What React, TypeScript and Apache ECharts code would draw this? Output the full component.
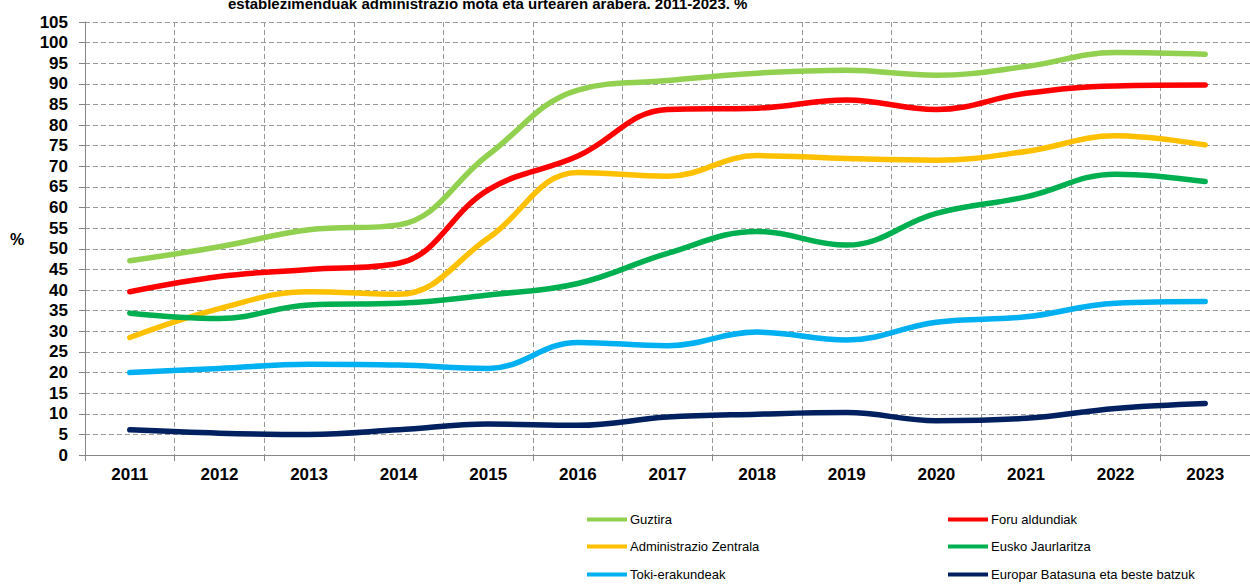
import React, { useEffect, useRef } from "react";
import * as echarts from "echarts";

const years = ["2011", "2012", "2013", "2014", "2015", "2016", "2017", "2018", "2019", "2020", "2021", "2022", "2023"];

const guztira = [47.1, 50.5, 54.6, 55.8, 72.8, 88.5, 90.8, 92.6, 93.3, 92.1, 94.2, 97.6, 97.2];
const foruAldundiak = [39.6, 43.3, 45.0, 46.5, 64.3, 72.5, 83.8, 84.1, 86.1, 83.8, 87.7, 89.5, 89.7];
const administrazioZentrala = [28.5, 35.5, 39.6, 39.0, 52.6, 68.5, 67.6, 72.6, 71.9, 71.5, 73.6, 77.4, 75.2];
const euskoJaurlaritza = [34.4, 33.1, 36.4, 36.8, 38.8, 41.6, 48.9, 54.2, 50.9, 58.6, 62.6, 68.1, 66.3];
const tokiErakundeak = [20.0, 21.0, 22.0, 21.8, 21.0, 27.3, 26.5, 29.8, 27.9, 32.2, 33.5, 36.8, 37.2];
const europarBatasuna = [6.1, 5.3, 5.0, 6.1, 7.5, 7.2, 9.2, 9.9, 10.3, 8.3, 8.9, 11.3, 12.5];

const seriesNames = [
  "Guztira",
  "Foru aldundiak",
  "Administrazio Zentrala",
  "Eusko Jaurlaritza",
  "Toki-erakundeak",
  "Europar Batasuna eta beste batzuk",
];
const seriesData = [guztira, foruAldundiak, administrazioZentrala, euskoJaurlaritza, tokiErakundeak, europarBatasuna];
const seriesColors = ["#92D050", "#FF0000", "#FFC000", "#00B050", "#00B0F0", "#002060"];

const titleText = "establezimenduak administrazio mota eta urtearen arabera. 2011-2023. %";

const FONT = "'Liberation Sans', Arial, sans-serif";

export default function App() {
  const ref = useRef<HTMLDivElement>(null);
  useEffect(() => {
    if (!ref.current) return;
    const chart = echarts.init(ref.current, null, { renderer: "svg" });
    const legendPos = [
      { left: 587, top: 513 },
      { left: 948, top: 513 },
      { left: 587, top: 540 },
      { left: 948, top: 540 },
      { left: 587, top: 568 },
      { left: 948, top: 568 },
    ];
    chart.setOption({
      animation: false,
      backgroundColor: "#ffffff",
      textStyle: { fontFamily: FONT },
      grid: { left: 85, top: 22, width: 1171, height: 433, containLabel: false },
      legend: seriesNames.map((n, i) => ({
        data: [n],
        left: legendPos[i].left,
        top: legendPos[i].top,
        padding: 0,
        icon: "rect",
        itemWidth: 40,
        itemHeight: 4,
        itemGap: 0,
        selectedMode: false,
        textStyle: { fontFamily: FONT, fontSize: 13, color: "#000", padding: [0, 0, 0, -2] },
      })),
      graphic: [
        {
          type: "text",
          left: 228,
          top: -4,
          style: {
            text: titleText,
            font: `bold 15px ${FONT}`,
            fill: "#000",
          },
        },
        {
          type: "text",
          left: 10,
          top: 231,
          style: { text: "%", font: `bold 16px ${FONT}`, fill: "#000" },
        },
      ],
      xAxis: {
        type: "category",
        data: years,
        boundaryGap: true,
        axisLine: { show: true, lineStyle: { color: "#868686", width: 1 } },
        axisTick: { show: true, length: 6, lineStyle: { color: "#868686" } },
        axisLabel: { color: "#000", fontWeight: "bold", fontSize: 17, fontFamily: FONT, margin: 11 },
        splitLine: { show: true, lineStyle: { color: "#999", type: [5, 3], width: 1 } },
      },
      yAxis: {
        type: "value",
        min: 0,
        max: 105,
        interval: 5,
        axisLine: { show: true, lineStyle: { color: "#868686", width: 1 } },
        axisTick: { show: true, length: 6, lineStyle: { color: "#868686" } },
        axisLabel: { color: "#000", fontWeight: "bold", fontSize: 17, fontFamily: FONT, margin: 17 },
        splitLine: { show: true, lineStyle: { color: "#999", type: [5, 3], width: 1 } },
      },
      series: seriesNames.map((n, i) => ({
        name: n,
        type: "line",
        data: seriesData[i],
        smooth: 0.4,
        showSymbol: false,
        symbol: "none",
        itemStyle: { color: seriesColors[i] },
        lineStyle: { color: seriesColors[i], width: 5.5, cap: "round", join: "round" },
      })),
    });
    return () => chart.dispose();
  }, []);
  return <div ref={ref} style={{ position: "fixed", left: 0, top: 0, width: 1250, height: 586 }} />;
}
